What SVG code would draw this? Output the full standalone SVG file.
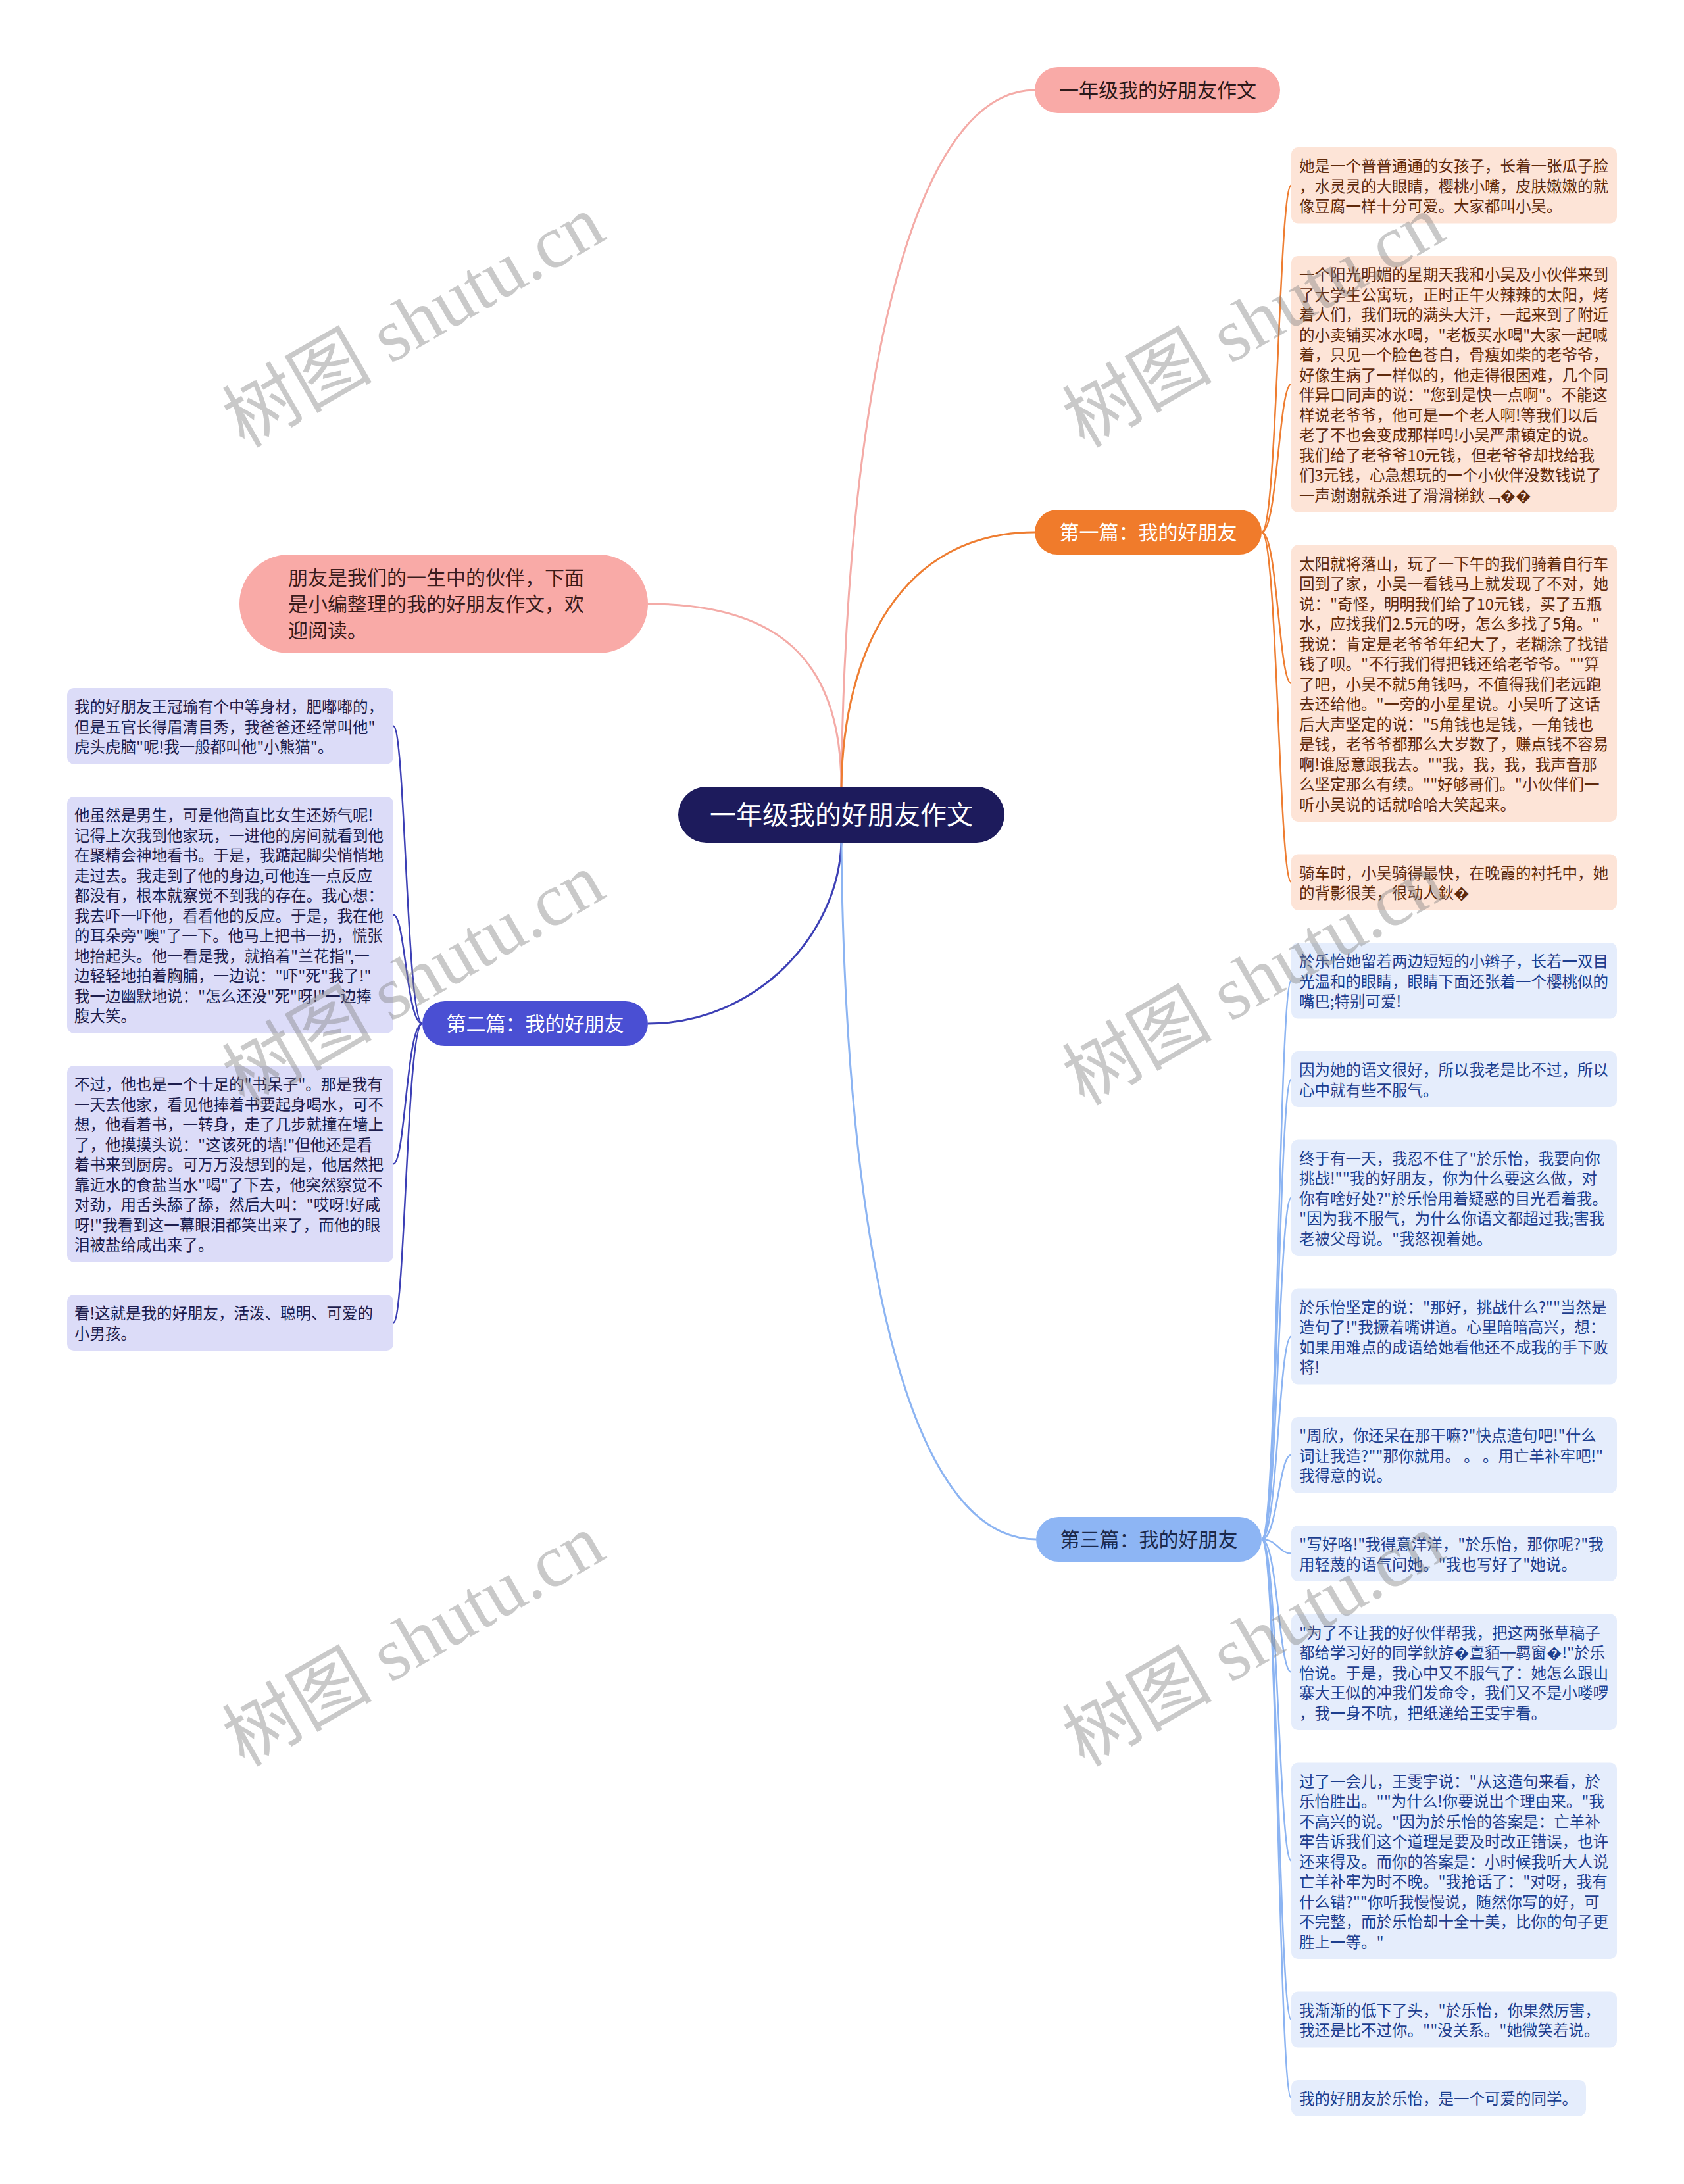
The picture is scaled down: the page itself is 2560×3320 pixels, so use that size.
<svg xmlns="http://www.w3.org/2000/svg" width="2560" height="3320" viewBox="0 0 2560 3320">
<defs>
<style>
text{font-family:"Noto Sans CJK SC","Noto Sans",sans-serif}
.leaf text{font-size:23.5px}
.or rect{fill:#fde4d7}
.or text{fill:#5f2a0c}
.bl rect{fill:#e5edfc}
.bl text{fill:#1d3e8e}
.pu rect{fill:#dcdcf8}
.pu text{fill:#1d1d4d}
.conn path{fill:none}
.c-pink{stroke:#f4aba7;stroke-width:3}
.c-or{stroke:#ee7d31;stroke-width:3}
.c-pu{stroke:#3c3fb5;stroke-width:3}
.c-bl{stroke:#8cb4f2;stroke-width:3}
.l-or{stroke:#ee7d31;stroke-width:2.5}
.l-pu{stroke:#3c3fb5;stroke-width:2.5}
.l-bl{stroke:#8cb4f2;stroke-width:2.5}
.wm{font-family:"Liberation Serif","Noto Sans CJK SC",serif;font-size:114px;fill:#808080;opacity:0.42}
</style>
</defs>
<rect width="2560" height="3320" fill="#ffffff"/>

<g id="connectors" class="conn">
  <path class="c-pink" d="M1279,1196 C1285,620 1380,137 1573,137"/>
  <path class="c-pink" d="M1279,1196 C1279,1000 1180,918 985,918"/>
  <path class="c-or" d="M1279,1196 C1282,990 1370,809 1573,809"/>
  <path class="c-pu" d="M1279,1281 C1275,1420 1150,1556 985,1556"/>
  <path class="c-bl" d="M1279,1281 C1285,1900 1380,2340 1575,2340"/>

  <path class="l-or" d="M1918,809 C1942,809 1944,281.75 1963,281.75"/>
  <path class="l-or" d="M1918,809 C1942,809 1944,584 1963,584"/>
  <path class="l-or" d="M1918,809 C1942,809 1944,1038.75 1963,1038.75"/>
  <path class="l-or" d="M1918,809 C1942,809 1944,1341 1963,1341"/>

  <path class="l-bl" d="M1918,2340 C1942,2340 1944,1490.75 1963,1490.75"/>
  <path class="l-bl" d="M1918,2340 C1942,2340 1944,1640.5 1963,1640.5"/>
  <path class="l-bl" d="M1918,2340 C1942,2340 1944,1820.75 1963,1820.75"/>
  <path class="l-bl" d="M1918,2340 C1942,2340 1944,2031.5 1963,2031.5"/>
  <path class="l-bl" d="M1918,2340 C1942,2340 1944,2211.75 1963,2211.75"/>
  <path class="l-bl" d="M1918,2340 C1942,2340 1944,2361.5 1963,2361.5"/>
  <path class="l-bl" d="M1918,2340 C1942,2340 1944,2541.75 1963,2541.75"/>
  <path class="l-bl" d="M1918,2340 C1942,2340 1944,2828.75 1963,2828.75"/>
  <path class="l-bl" d="M1918,2340 C1942,2340 1944,3070 1963,3070"/>
  <path class="l-bl" d="M1918,2340 C1942,2340 1944,3189.25 1963,3189.25"/>

  <path class="l-pu" d="M642,1556 C618,1556 616,1103.75 598,1103.75"/>
  <path class="l-pu" d="M642,1556 C618,1556 616,1390.75 598,1390.75"/>
  <path class="l-pu" d="M642,1556 C618,1556 616,1769.25 598,1769.25"/>
  <path class="l-pu" d="M642,1556 C618,1556 616,2010.5 598,2010.5"/>
</g>

<g id="root">
  <rect x="1031" y="1196" width="496" height="85" rx="42.5" fill="#1d1b5c"/>
  <text x="1279" y="1253" font-size="40" fill="#ffffff" text-anchor="middle">一年级我的好朋友作文</text>
</g>

<g id="top-title">
  <rect x="1573" y="102" width="373" height="70" rx="35" fill="#f9aaa7"/>
  <text x="1760" y="148" font-size="30" fill="#2e1a1a" text-anchor="middle">一年级我的好朋友作文</text>
</g>

<g id="intro">
  <rect x="364" y="843" width="621" height="150" rx="75" fill="#f9aaa7"/>
  <text font-size="30" fill="#3a1c1c"><tspan x="438" y="889">朋友是我们的一生中的伙伴，下面</tspan><tspan x="438" y="929">是小编整理的我的好朋友作文，欢</tspan><tspan x="438" y="969">迎阅读。</tspan></text>
</g>

<g id="part1">
  <rect x="1573" y="775" width="345" height="68" rx="34" fill="#f07b2b"/>
  <text x="1745.5" y="820" font-size="30" fill="#ffffff" text-anchor="middle">第一篇：我的好朋友</text>
</g>

<g id="part2">
  <rect x="642" y="1522" width="343" height="68" rx="34" fill="#4a4fd3"/>
  <text x="813.5" y="1567" font-size="30" fill="#ffffff" text-anchor="middle">第二篇：我的好朋友</text>
</g>

<g id="part3">
  <rect x="1575" y="2306" width="343" height="68" rx="34" fill="#8db5f4"/>
  <text x="1746.5" y="2351" font-size="30" fill="#1c2a4c" text-anchor="middle">第三篇：我的好朋友</text>
</g>

<g id="o1" class="leaf or">
  <rect x="1963" y="224" width="495" height="115.5" rx="10"/>
  <text><tspan x="1975" y="261">她是一个普普通通的女孩子，长着一张瓜子脸</tspan><tspan x="1975" dy="30.5">，水灵灵的大眼睛，樱桃小嘴，皮肤嫩嫩的就</tspan><tspan x="1975" dy="30.5">像豆腐一样十分可爱。大家都叫小吴。</tspan></text>
</g>

<g id="o2" class="leaf or">
  <rect x="1963" y="389" width="495" height="390" rx="10"/>
  <text><tspan x="1975" y="426">一个阳光明媚的星期天我和小吴及小伙伴来到</tspan><tspan x="1975" dy="30.5">了大学生公寓玩，正时正午火辣辣的太阳，烤</tspan><tspan x="1975" dy="30.5">着人们，我们玩的满头大汗，一起来到了附近</tspan><tspan x="1975" dy="30.5">的小卖铺买冰水喝，"老板买水喝"大家一起喊</tspan><tspan x="1975" dy="30.5">着，只见一个脸色苍白，骨瘦如柴的老爷爷，</tspan><tspan x="1975" dy="30.5">好像生病了一样似的，他走得很困难，几个同</tspan><tspan x="1975" dy="30.5">伴异口同声的说："您到是快一点啊"。不能这</tspan><tspan x="1975" dy="30.5">样说老爷爷，他可是一个老人啊!等我们以后</tspan><tspan x="1975" dy="30.5">老了不也会变成那样吗!小吴严肃镇定的说。</tspan><tspan x="1975" dy="30.5">我们给了老爷爷10元钱，但老爷爷却找给我</tspan><tspan x="1975" dy="30.5">们3元钱，心急想玩的一个小伙伴没数钱说了</tspan><tspan x="1975" dy="30.5">一声谢谢就杀进了滑滑梯鈥﹁��</tspan></text>
</g>

<g id="o3" class="leaf or">
  <rect x="1963" y="828.5" width="495" height="420.5" rx="10"/>
  <text><tspan x="1975" y="865.5">太阳就将落山，玩了一下午的我们骑着自行车</tspan><tspan x="1975" dy="30.5">回到了家，小吴一看钱马上就发现了不对，她</tspan><tspan x="1975" dy="30.5">说："奇怪，明明我们给了10元钱，买了五瓶</tspan><tspan x="1975" dy="30.5">水，应找我们2.5元的呀，怎么多找了5角。"</tspan><tspan x="1975" dy="30.5">我说：肯定是老爷爷年纪大了，老糊涂了找错</tspan><tspan x="1975" dy="30.5">钱了呗。"不行我们得把钱还给老爷爷。""算</tspan><tspan x="1975" dy="30.5">了吧，小吴不就5角钱吗，不值得我们老远跑</tspan><tspan x="1975" dy="30.5">去还给他。"一旁的小星星说。小吴听了这话</tspan><tspan x="1975" dy="30.5">后大声坚定的说："5角钱也是钱，一角钱也</tspan><tspan x="1975" dy="30.5">是钱，老爷爷都那么大岁数了，赚点钱不容易</tspan><tspan x="1975" dy="30.5">啊!谁愿意跟我去。""我，我，我，我声音那</tspan><tspan x="1975" dy="30.5">么坚定那么有续。""好够哥们。"小伙伴们一</tspan><tspan x="1975" dy="30.5">听小吴说的话就哈哈大笑起来。</tspan></text>
</g>

<g id="o4" class="leaf or">
  <rect x="1963" y="1298.5" width="495" height="85" rx="10"/>
  <text><tspan x="1975" y="1335.5">骑车时，小吴骑得最快，在晚霞的衬托中，她</tspan><tspan x="1975" dy="30.5">的背影很美，很动人鈥�</tspan></text>
</g>

<g id="b1" class="leaf bl">
  <rect x="1963" y="1433" width="495" height="115.5" rx="10"/>
  <text><tspan x="1975" y="1470">於乐怡她留着两边短短的小辫子，长着一双目</tspan><tspan x="1975" dy="30.5">光温和的眼睛，眼睛下面还张着一个樱桃似的</tspan><tspan x="1975" dy="30.5">嘴巴;特别可爱!</tspan></text>
</g>

<g id="b2" class="leaf bl">
  <rect x="1963" y="1598" width="495" height="85" rx="10"/>
  <text><tspan x="1975" y="1635">因为她的语文很好，所以我老是比不过，所以</tspan><tspan x="1975" dy="30.5">心中就有些不服气。</tspan></text>
</g>

<g id="b3" class="leaf bl">
  <rect x="1963" y="1732.5" width="495" height="176.5" rx="10"/>
  <text><tspan x="1975" y="1769.5">终于有一天，我忍不住了"於乐怡，我要向你</tspan><tspan x="1975" dy="30.5">挑战!""我的好朋友，你为什么要这么做，对</tspan><tspan x="1975" dy="30.5">你有啥好处?"於乐怡用着疑惑的目光看着我。</tspan><tspan x="1975" dy="30.5">"因为我不服气，为什么你语文都超过我;害我</tspan><tspan x="1975" dy="30.5">老被父母说。"我怒视着她。</tspan></text>
</g>

<g id="b4" class="leaf bl">
  <rect x="1963" y="1958.5" width="495" height="146" rx="10"/>
  <text><tspan x="1975" y="1995.5">於乐怡坚定的说："那好，挑战什么?""当然是</tspan><tspan x="1975" dy="30.5">造句了!"我撅着嘴讲道。心里暗暗高兴，想：</tspan><tspan x="1975" dy="30.5">如果用难点的成语给她看他还不成我的手下败</tspan><tspan x="1975" dy="30.5">将!</tspan></text>
</g>

<g id="b5" class="leaf bl">
  <rect x="1963" y="2154" width="495" height="115.5" rx="10"/>
  <text><tspan x="1975" y="2191">"周欣，你还呆在那干嘛?"快点造句吧!"什么</tspan><tspan x="1975" dy="30.5">词让我造?""那你就用。 。 。用亡羊补牢吧!"</tspan><tspan x="1975" dy="30.5">我得意的说。</tspan></text>
</g>

<g id="b6" class="leaf bl">
  <rect x="1963" y="2319" width="495" height="85" rx="10"/>
  <text><tspan x="1975" y="2356">"写好咯!"我得意洋洋，"於乐怡，那你呢?"我</tspan><tspan x="1975" dy="30.5">用轻蔑的语气问她。"我也写好了"她说。</tspan></text>
</g>

<g id="b7" class="leaf bl">
  <rect x="1963" y="2453.5" width="495" height="176.5" rx="10"/>
  <text><tspan x="1975" y="2490.5">"为了不让我的好伙伴帮我，把这两张草稿子</tspan><tspan x="1975" dy="30.5">都给学习好的同学鈥斿�亶貊┯羁窗�!"於乐</tspan><tspan x="1975" dy="30.5">怡说。于是，我心中又不服气了：她怎么跟山</tspan><tspan x="1975" dy="30.5">寨大王似的冲我们发命令，我们又不是小喽啰</tspan><tspan x="1975" dy="30.5">，我一身不吭，把纸递给王雯宇看。</tspan></text>
</g>

<g id="b8" class="leaf bl">
  <rect x="1963" y="2679.5" width="495" height="298.5" rx="10"/>
  <text><tspan x="1975" y="2716.5">过了一会儿，王雯宇说："从这造句来看，於</tspan><tspan x="1975" dy="30.5">乐怡胜出。""为什么!你要说出个理由来。"我</tspan><tspan x="1975" dy="30.5">不高兴的说。"因为於乐怡的答案是：亡羊补</tspan><tspan x="1975" dy="30.5">牢告诉我们这个道理是要及时改正错误，也许</tspan><tspan x="1975" dy="30.5">还来得及。而你的答案是：小时候我听大人说</tspan><tspan x="1975" dy="30.5">亡羊补牢为时不晚。"我抢话了："对呀，我有</tspan><tspan x="1975" dy="30.5">什么错?""你听我慢慢说，随然你写的好，可</tspan><tspan x="1975" dy="30.5">不完整，而於乐怡却十全十美，比你的句子更</tspan><tspan x="1975" dy="30.5">胜上一等。"</tspan></text>
</g>

<g id="b9" class="leaf bl">
  <rect x="1963" y="3027.5" width="495" height="85" rx="10"/>
  <text><tspan x="1975" y="3064.5">我渐渐的低下了头，"於乐怡，你果然厉害，</tspan><tspan x="1975" dy="30.5">我还是比不过你。""没关系。"她微笑着说。</tspan></text>
</g>

<g id="b10" class="leaf bl">
  <rect x="1963" y="3162" width="448" height="54.5" rx="10"/>
  <text><tspan x="1975" y="3199">我的好朋友於乐怡，是一个可爱的同学。</tspan></text>
</g>

<g id="l1" class="leaf pu">
  <rect x="102" y="1046" width="496" height="115.5" rx="10"/>
  <text><tspan x="113" y="1083">我的好朋友王冠瑜有个中等身材，肥嘟嘟的，</tspan><tspan x="113" dy="30.5">但是五官长得眉清目秀，我爸爸还经常叫他"</tspan><tspan x="113" dy="30.5">虎头虎脑"呢!我一般都叫他"小熊猫"。</tspan></text>
</g>

<g id="l2" class="leaf pu">
  <rect x="102" y="1211" width="496" height="359.5" rx="10"/>
  <text><tspan x="113" y="1248">他虽然是男生，可是他简直比女生还娇气呢!</tspan><tspan x="113" dy="30.5">记得上次我到他家玩，一进他的房间就看到他</tspan><tspan x="113" dy="30.5">在聚精会神地看书。于是，我踮起脚尖悄悄地</tspan><tspan x="113" dy="30.5">走过去。我走到了他的身边,可他连一点反应</tspan><tspan x="113" dy="30.5">都没有，根本就察觉不到我的存在。我心想：</tspan><tspan x="113" dy="30.5">我去吓一吓他，看看他的反应。于是，我在他</tspan><tspan x="113" dy="30.5">的耳朵旁"噢"了一下。他马上把书一扔，慌张</tspan><tspan x="113" dy="30.5">地抬起头。他一看是我，就掐着"兰花指",一</tspan><tspan x="113" dy="30.5">边轻轻地拍着胸脯，一边说："吓"死"我了!"</tspan><tspan x="113" dy="30.5">我一边幽默地说："怎么还没"死"呀!"一边捧</tspan><tspan x="113" dy="30.5">腹大笑。</tspan></text>
</g>

<g id="l3" class="leaf pu">
  <rect x="102" y="1620" width="496" height="298.5" rx="10"/>
  <text><tspan x="113" y="1657">不过，他也是一个十足的"书呆子"。那是我有</tspan><tspan x="113" dy="30.5">一天去他家，看见他捧着书要起身喝水，可不</tspan><tspan x="113" dy="30.5">想，他看着书，一转身，走了几步就撞在墙上</tspan><tspan x="113" dy="30.5">了，他摸摸头说："这该死的墙!"但他还是看</tspan><tspan x="113" dy="30.5">着书来到厨房。可万万没想到的是，他居然把</tspan><tspan x="113" dy="30.5">靠近水的食盐当水"喝"了下去，他突然察觉不</tspan><tspan x="113" dy="30.5">对劲，用舌头舔了舔，然后大叫："哎呀!好咸</tspan><tspan x="113" dy="30.5">呀!"我看到这一幕眼泪都笑出来了，而他的眼</tspan><tspan x="113" dy="30.5">泪被盐给咸出来了。</tspan></text>
</g>

<g id="l4" class="leaf pu">
  <rect x="102" y="1968" width="496" height="85" rx="10"/>
  <text><tspan x="113" y="2005">看!这就是我的好朋友，活泼、聪明、可爱的</tspan><tspan x="113" dy="30.5">小男孩。</tspan></text>
</g>

<g id="watermarks">
  <text class="wm" text-anchor="middle" transform="translate(648,522) rotate(-30)">树图 shutu.cn</text>
  <text class="wm" text-anchor="middle" transform="translate(1925,522) rotate(-30)">树图 shutu.cn</text>
  <text class="wm" text-anchor="middle" transform="translate(648,1522) rotate(-30)">树图 shutu.cn</text>
  <text class="wm" text-anchor="middle" transform="translate(1925,1522) rotate(-30)">树图 shutu.cn</text>
  <text class="wm" text-anchor="middle" transform="translate(648,2527) rotate(-30)">树图 shutu.cn</text>
  <text class="wm" text-anchor="middle" transform="translate(1925,2527) rotate(-30)">树图 shutu.cn</text>
</g>
</svg>
